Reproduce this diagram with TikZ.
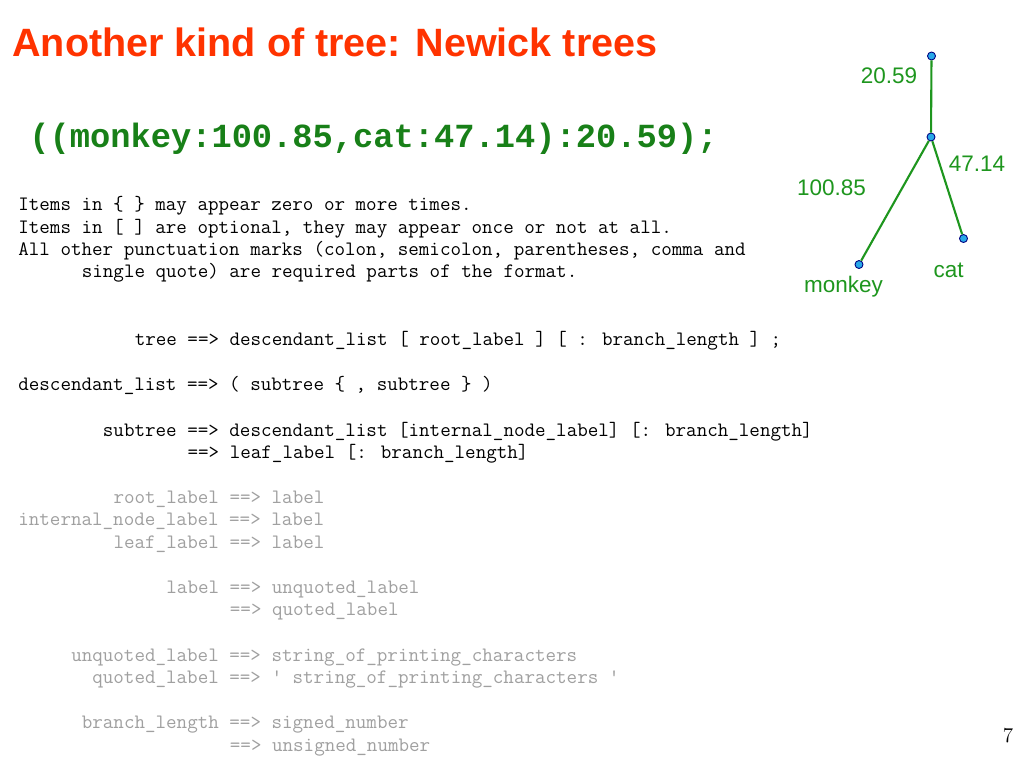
\documentclass[tikz,border=0pt]{standalone}
\usepackage{fontspec}
\newfontfamily\sansfont{Liberation Sans}
\newfontfamily\courfont{Liberation Mono}
\definecolor{titlered}{RGB}{255,51,0}
\definecolor{newickgreen}{RGB}{24,128,24}
\definecolor{treegreen}{RGB}{30,150,30}
\definecolor{leafblue}{RGB}{40,168,232}
\definecolor{gramgray}{RGB}{160,160,160}
\begin{document}
\begin{tikzpicture}[x=0.02cm, y=-0.02cm,
  gram/.style={anchor=base west, inner sep=0pt, font=\ttfamily\fontsize{11.65}{13}\selectfont},
  dim/.style={gram, text=gramgray},
  leaf/.style={draw=blue!50!black, fill=leafblue, circle, line width=0.5pt, minimum size=0.16cm, inner sep=0pt},
  branch/.style={treegreen, line width=1.2pt},
  blen/.style={text=treegreen, inner sep=0pt, font=\sansfont\fontsize{12.8}{14}\selectfont}]
\fill[white] (0,0) rectangle (1024,768);
\useasboundingbox (0,0) rectangle (1024,768);

\node (title) [anchor=base west, inner sep=0pt, text=titlered, font=\sansfont\bfseries\fontsize{22.5}{26}\selectfont] at (12,56) {Another kind of tree: Newick trees};
\node (newick) [anchor=base west, inner sep=0pt, text=newickgreen, font=\courfont\bfseries\fontsize{19.2}{22}\selectfont] at (29,147) {((monkey:100.85,cat:47.14):20.59);};

% the tree
\node (root) [leaf] at (931.5,56) {};
\node (inner) [leaf] at (931,137) {};
\node (monkey) [leaf] at (859,264.5) {};
\node (cat) [leaf] at (963.5,238.5) {};

\draw [branch] (root) -- (inner);
\draw [branch] (inner) -- (monkey);
\draw [branch] (inner) -- (cat);

\node (lroot) [blen] at (889,76) {20.59};
\node (lcat) [blen] at (977,164) {47.14};
\node (lmonkey) [blen] at (831.5,188) {100.85};
\node (catname) [blen] at (948.5,270) {cat};
\node (monkeyname) [blen] at (843.5,287) {monkey};

% the format
\node (items1) [gram] at (18,210) {Items in \{ \} may appear zero or more times.};
\node (items2) [gram] at (18,233) {Items in [ ] are optional, they may appear once or not at all.};
\node (punct1) [gram] at (18,255) {All other punctuation marks (colon, semicolon, parentheses, comma and};
\node (punct2) [gram] at (81.5,277) {single quote) are required parts of the format.};

\node (treerule) [gram] at (134.4,345) {tree ==> descendant\_list [ root\_label ] [ : branch\_length ] ;};
\node (desclist) [gram] at (18,390) {descendant\_list ==> ( subtree \{ , subtree \} )};
\node (subtree1) [gram] at (102.6,436) {subtree ==> descendant\_list [internal\_node\_label] [: branch\_length]};
\node (subtree2) [gram] at (187.3,458) {==> leaf\_label [: branch\_length]};

\node (rootlab) [dim] at (113.2,503) {root\_label ==> label};
\node (intlab) [dim] at (18,525) {internal\_node\_label ==> label};
\node (leaflab) [dim] at (113.2,548) {leaf\_label ==> label};
\node (label1) [dim] at (166.1,593) {label ==> unquoted\_label};
\node (label2) [dim] at (229.6,615) {==> quoted\_label};
\node (unquoted) [dim] at (70.9,661) {unquoted\_label ==> string\_of\_printing\_characters};
\node (quoted) [dim] at (92,683) {quoted\_label ==> \textquotesingle{} string\_of\_printing\_characters \textquotesingle};
\node (branch1) [dim] at (81.5,728) {branch\_length ==> signed\_number};
\node (branch2) [dim] at (229.6,751) {==> unsigned\_number};

\node (pagenum) [inner sep=0pt, font=\fontsize{12}{14}\selectfont] at (1008,736) {7};
\end{tikzpicture}
\end{document}
